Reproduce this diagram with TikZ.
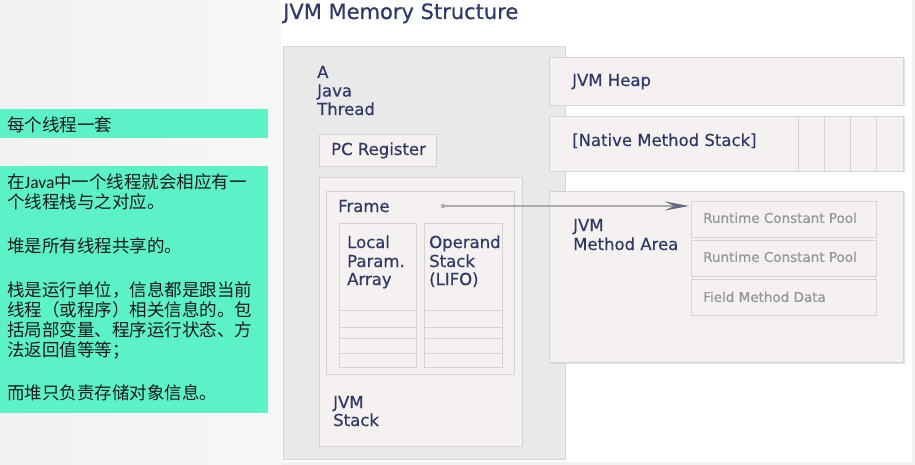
\documentclass[tikz,border=0pt]{standalone}
\usepackage{fontspec}
\setmainfont{DejaVu Sans}
\newfontfamily\semib{DejaVu Sans}[FakeBold=0.5]
\newfontfamily\cjk{Noto Sans CJK SC}
\newfontfamily\carl{Carlito}
\usetikzlibrary{arrows.meta,shadows,calc}
\definecolor{bgleft}{RGB}{241,241,241}
\definecolor{bgleftb}{RGB}{247,247,247}
\definecolor{mint}{RGB}{92,242,200}
\definecolor{threadfill}{RGB}{233,233,233}
\definecolor{threadline}{RGB}{214,214,214}
\definecolor{boxfill}{RGB}{244,241,240}
\definecolor{boxline}{RGB}{214,211,211}
\definecolor{navy}{RGB}{47,56,104}
\definecolor{graytext}{RGB}{150,150,150}
\definecolor{arrowgray}{RGB}{170,170,176}
\definecolor{tipgray}{RGB}{100,104,130}
\begin{document}
\begin{tikzpicture}[x=1pt,y=-1pt,
  box/.style={draw=boxline, fill=boxfill, line width=0.8pt, anchor=north west, inner sep=0pt, outer sep=0pt},
  shbox/.style={box, drop shadow={shadow xshift=1.5pt, shadow yshift=-1.5pt, fill=black!18, opacity=0.6}},
  lbl/.style={anchor=west, inner sep=0pt, text=navy, font=\semib\fontsize{16.5}{18}\selectfont, text height=12pt, text depth=0pt},
  small/.style={anchor=west, inner sep=0pt, text=graytext, font=\semib\fontsize{13.5}{15}\selectfont, text height=9.8pt, text depth=0pt},
  cn/.style={anchor=west, inner sep=0pt, text=black!90, font=\cjk\fontsize{17.5}{20}\selectfont, text height=15.4pt, text depth=2.1pt},
  greenbox/.style={fill=mint, draw=none, anchor=north west, inner sep=0pt, outer sep=0pt}
]
\useasboundingbox (0,0) rectangle (915,465);
% backgrounds
\path[left color=bgleft, right color=bgleftb] (0,0) rectangle (281,465);
\fill[bgleft] (281,462) rectangle (915,465);
\fill[bgleft] (912,0) rectangle (915,465);
\fill[white] (281,0) rectangle (912,462);

% green boxes
\node[greenbox, minimum width=268pt, minimum height=29pt] (g1) at (0,109) {};
\node[greenbox, minimum width=268pt, minimum height=247pt] (g2) at (0,166) {};
\node[cn] (c0) at (7,124.5) {每个线程一套};
\node[cn] (c1) at (7,182) {在{\carl Java}中一个线程就会相应有一};
\node[cn] (c2) at (7,202) {个线程栈与之对应。};
\node[cn] (c3) at (7,246) {堆是所有线程共享的。};
\node[cn] (c4) at (7,290) {栈是运行单位，信息都是跟当前};
\node[cn] (c5) at (7,310) {线程（或程序）相关信息的。包};
\node[cn] (c6) at (7,330) {括局部变量、程序运行状态、方};
\node[cn] (c7) at (7,350) {法返回值等等；};
\node[cn] (c8) at (7,393) {而堆只负责存储对象信息。};

% title
\node[anchor=base west, inner sep=0pt, text=navy, font=\semib\fontsize{21}{24}\selectfont] (title) at (283,19) {JVM Memory Structure};

% thread
\node[box, draw=threadline, fill=threadfill, minimum width=282pt, minimum height=413pt] (thread) at (283,46) {};
\node[lbl] (t1) at (317,72) {A};
\node[lbl] (t2) at (317,90.5) {Java};
\node[lbl] (t3) at (317,109) {Thread};

\node[box, minimum width=117pt, minimum height=32pt] (pc) at (319,134) {};
\node[lbl] (pcl) at (331,149) {PC Register};

\node[box, minimum width=203pt, minimum height=269pt] (stack) at (319,177) {};
\node[box, minimum width=188pt, minimum height=183pt] (frame) at (326,191) {};
\node[lbl] (framel) at (338,206) {Frame};

\node[box, minimum width=77pt, minimum height=144pt] (lcol) at (339,223) {};
\node[box, minimum width=78pt, minimum height=144pt] (ocol) at (424,223) {};
\foreach \yy in {310,327,338,353}{
  \draw[boxline, line width=0.8pt] (lcol.west |- 0,\yy) -- (lcol.east |- 0,\yy);
  \draw[boxline, line width=0.8pt] (ocol.west |- 0,\yy) -- (ocol.east |- 0,\yy);
}
\node[lbl] (l1) at (347,242) {Local};
\node[lbl] (l2) at (347,261) {Param.};
\node[lbl] (l3) at (347,279) {Array};
\node[lbl] (o1) at (429,242) {Operand};
\node[lbl] (o2) at (429,261) {Stack};
\node[lbl] (o3) at (429,279) {(LIFO)};

\node[lbl] (s1) at (333,402) {JVM};
\node[lbl] (s2) at (333,420) {Stack};

% right side
\node[shbox, minimum width=354pt, minimum height=48pt] (heap) at (549,57) {};
\node[lbl] (heapl) at (572,80) {JVM Heap};

\node[shbox, minimum width=354pt, minimum height=55pt] (native) at (549,116) {};
\foreach \xx in {798,824,850,876}{
  \draw[boxline, line width=0.8pt] (\xx,0 |- native.north) -- (\xx,0 |- native.south);
}
\node[lbl] (nativel) at (572,140) {[Native Method Stack]};

\node[shbox, minimum width=354pt, minimum height=171pt] (method) at (549,191) {};
\node[lbl] (m1) at (573,225) {JVM};
\node[lbl] (m2) at (573,244) {Method Area};

\node[box, minimum width=185pt, minimum height=36pt] (rcp1) at (691,201) {};
\node[box, minimum width=185pt, minimum height=36pt] (rcp2) at (691,240) {};
\node[box, minimum width=185pt, minimum height=36pt] (fmd) at (691,279) {};
\node[small] (rcp1l) at (703,218) {Runtime Constant Pool};
\node[small] (rcp2l) at (703,257) {Runtime Constant Pool};
\node[small] (fmdl) at (703,297) {Field Method Data};

% arrow
\coordinate (fstart) at (443,206);
\coordinate (fend) at ($(rcp1.north west)+(-2,5)$);
\fill[arrowgray] (fstart) circle (2.2pt);
\draw[arrowgray, line width=1.4pt, -{Stealth[length=24pt, width=9pt, inset=9pt, color=tipgray]}] (fstart) -- (fend);
\end{tikzpicture}
\end{document}
